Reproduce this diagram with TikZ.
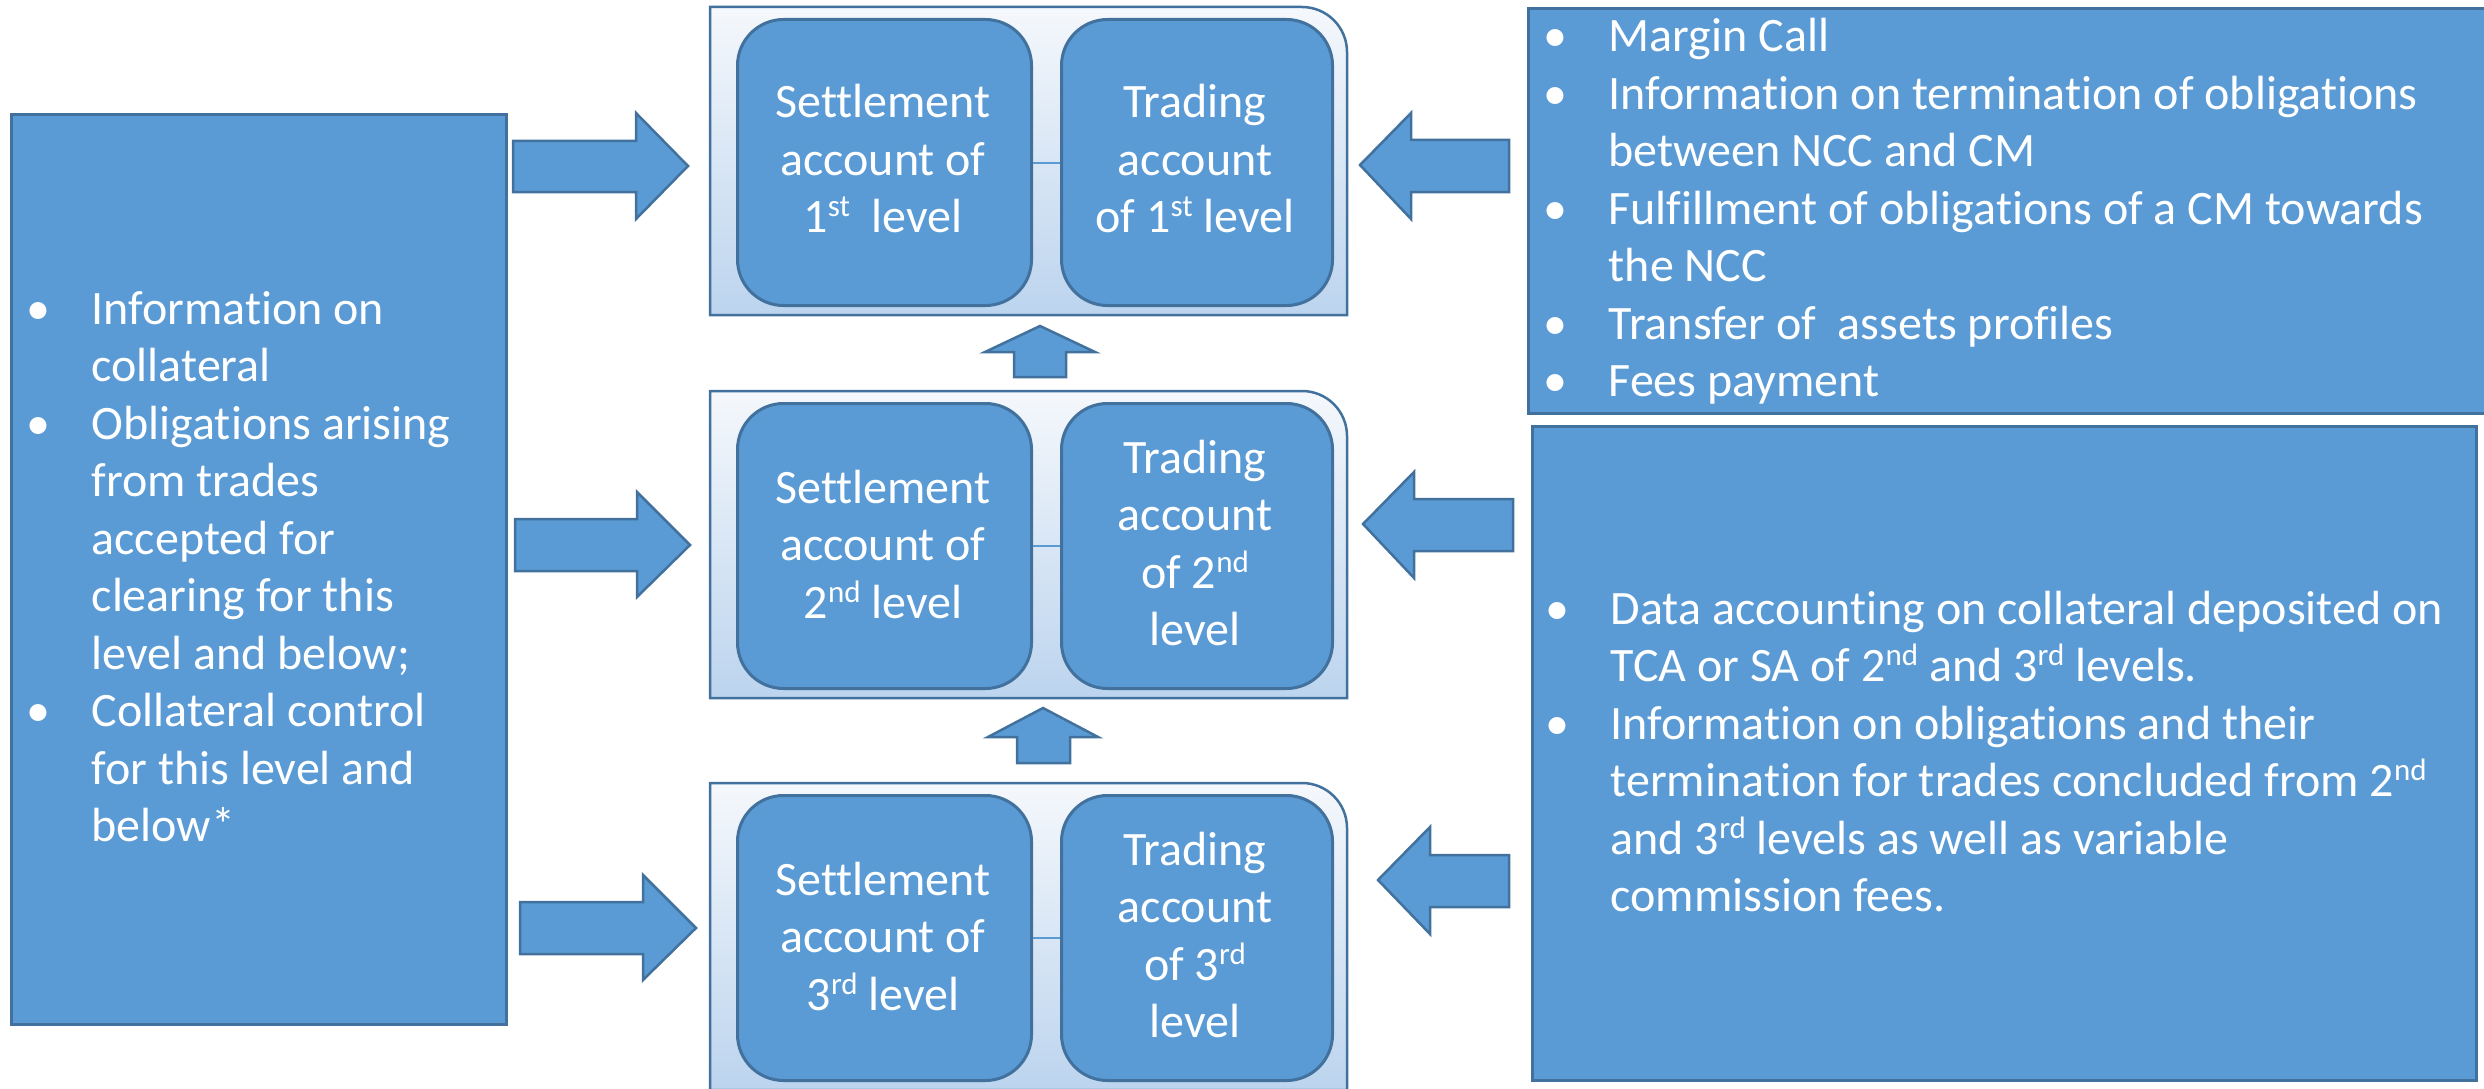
\documentclass[tikz,border=0pt]{standalone}
\usepackage{fontspec}
\setmainfont{Carlito}[Ligatures=NoCommon]

\definecolor{boxblue}{HTML}{5B9BD5}
\definecolor{edgeblue}{HTML}{41719C}
\definecolor{gradtop}{HTML}{F5F8FC}
\definecolor{gradbot}{HTML}{BCD4EE}

% superscript ordinals and bullet lines
\newcommand\sps[1]{\raisebox{16pt}{\fontsize{31}{31}\selectfont #1}}
\newcommand\bp{\makebox[53.5pt][l]{\makebox[0pt]{\textbullet}}}
\newcommand\ind{\hspace*{53.5pt}}

\tikzset{
  panel/.style={draw=edgeblue, line width=3pt, fill=boxblue, inner sep=0pt},
  acct/.style={draw=edgeblue, line width=3pt, fill=boxblue, rounded corners=46pt,
               inner sep=0pt, anchor=north west},
  levelbox/.style={draw=edgeblue, line width=2.5pt, top color=gradtop, bottom color=gradbot},
  blockarrow/.style={draw=edgeblue, line width=2.5pt, fill=boxblue, line join=miter},
  link/.style={draw=boxblue, line width=2pt},
  txt/.style={text=white, inner sep=0pt, font=\fontsize{48}{57.5}\selectfont},
}

\begin{document}
\begin{tikzpicture}[x=1pt,y=-1pt]
\useasboundingbox (0,0) rectangle (2484,1089);
\clip (0,0) rectangle (2484,1089);

% level containers (one rounded corner, top right)
\path[levelbox] (710,315) -- (710,7) [rounded corners=45pt] -- (1347,7) [sharp corners] -- (1347,315) -- cycle;
\path[levelbox] (710,698) -- (710,391) [rounded corners=45pt] -- (1347,391) [sharp corners] -- (1347,698) -- cycle;
\path[levelbox] (710,1090) -- (710,783) [rounded corners=45pt] -- (1347,783) [sharp corners] -- (1347,1090) -- cycle;

% accounts of each level
\node[acct, minimum width=294pt, minimum height=286pt] (sa1) at (736,18) {};
\node[acct, minimum width=271pt, minimum height=286pt] (ta1) at (1060,18) {};
\node[acct, minimum width=294pt, minimum height=285pt] (sa2) at (736,402) {};
\node[acct, minimum width=271pt, minimum height=285pt] (ta2) at (1060,402) {};
\node[acct, minimum width=294pt, minimum height=285pt] (sa3) at (736,794) {};
\node[acct, minimum width=271pt, minimum height=285pt] (ta3) at (1060,794) {};

\draw[link] (sa1.east) -- (ta1.west);
\draw[link] (sa2.east) -- (ta2.west);
\draw[link] (sa3.east) -- (ta3.west);

\node[txt, anchor=base] (sa1t) at (883,118)
  {\begin{tabular}[t]{@{}c@{}}Settlement\\account of\\1\sps{st}~ level\end{tabular}};
\node[txt, anchor=base] (ta1t) at (1195,118)
  {\begin{tabular}[t]{@{}c@{}}Trading\\account\\of 1\sps{st} level\end{tabular}};
\node[txt, anchor=base] (sa2t) at (883,503)
  {\begin{tabular}[t]{@{}c@{}}Settlement\\account of\\2\sps{nd} level\end{tabular}};
\node[txt, anchor=base] (ta2t) at (1195,473)
  {\begin{tabular}[t]{@{}c@{}}Trading\\account\\of 2\sps{nd}\\level\end{tabular}};
\node[txt, anchor=base] (sa3t) at (883,895)
  {\begin{tabular}[t]{@{}c@{}}Settlement\\account of\\3\sps{rd} level\end{tabular}};
\node[txt, anchor=base] (ta3t) at (1195,865)
  {\begin{tabular}[t]{@{}c@{}}Trading\\account\\of 3\sps{rd}\\level\end{tabular}};

% up arrows between levels
\draw[blockarrow] (1014,377) -- (1014,352) -- (985,352) -- (1040,326) -- (1095,352) -- (1066,352) -- (1066,377) -- cycle;
\draw[blockarrow] (1017,763) -- (1017,737) -- (988,737) -- (1043,708) -- (1098,737) -- (1070,737) -- (1070,763) -- cycle;

% left information panel
\node[panel, anchor=north west, minimum width=495pt, minimum height=910pt] (left) at (10,113) {};
\node[txt, anchor=base west] (lefttext) at (38,324)
  {\begin{tabular}[t]{@{}l@{}}
   \bp Information on\\
   \ind collateral\\
   \bp Obligations arising\\
   \ind from trades\\
   \ind accepted for\\
   \ind clearing for this\\
   \ind level and below;\\
   \bp Collateral control\\
   \ind for this level and\\
   \ind below*
   \end{tabular}};

% right arrows into the levels
\draw[blockarrow] (513,141) -- (636,141) -- (636,113) -- (688,166) -- (636,219) -- (636,192) -- (513,192) -- cycle;
\draw[blockarrow] (515,519) -- (637,519) -- (637,492) -- (690,545) -- (637,597) -- (637,571) -- (515,571) -- cycle;
\draw[blockarrow] (520,902) -- (643,902) -- (643,875) -- (696,928) -- (643,980) -- (643,954) -- (520,954) -- cycle;

% right information panels
\node[panel, anchor=north west, minimum width=961pt, minimum height=405pt] (rtop) at (1527,7) {};
\node[txt, anchor=base west] (rtoptext) at (1555,52)
  {\begin{tabular}[t]{@{}l@{}}
   \bp Margin Call\\
   \bp Information on termination of obligations\\
   \ind between NCC and CM\\
   \bp Fulfillment of obligations of a CM towards\\
   \ind the NCC\\
   \bp Transfer of~ assets profiles\\
   \bp Fees payment
   \end{tabular}};

\node[panel, anchor=north west, minimum width=944pt, minimum height=654pt] (rlow) at (1531,425) {};
\node[txt, anchor=base west] (rlowtext) at (1557,624)
  {\begin{tabular}[t]{@{}l@{}}
   \bp Data accounting on collateral deposited on\\
   \ind TCA or SA of 2\sps{nd} and 3\sps{rd} levels.\\
   \bp Information on obligations and their\\
   \ind termination for trades concluded from 2\sps{nd}\\
   \ind and 3\sps{rd} levels as well as variable\\
   \ind commission fees.
   \end{tabular}};

% left arrows into the levels
\draw[blockarrow] (1509,140) -- (1411,140) -- (1411,113) -- (1360,165) -- (1411,219) -- (1411,192) -- (1509,192) -- cycle;
\draw[blockarrow] (1513,499) -- (1414,499) -- (1414,472) -- (1363,524) -- (1414,578) -- (1414,551) -- (1513,551) -- cycle;
\draw[blockarrow] (1509,855) -- (1430,855) -- (1430,827) -- (1378,880) -- (1430,934) -- (1430,907) -- (1509,907) -- cycle;
\end{tikzpicture}
\end{document}
